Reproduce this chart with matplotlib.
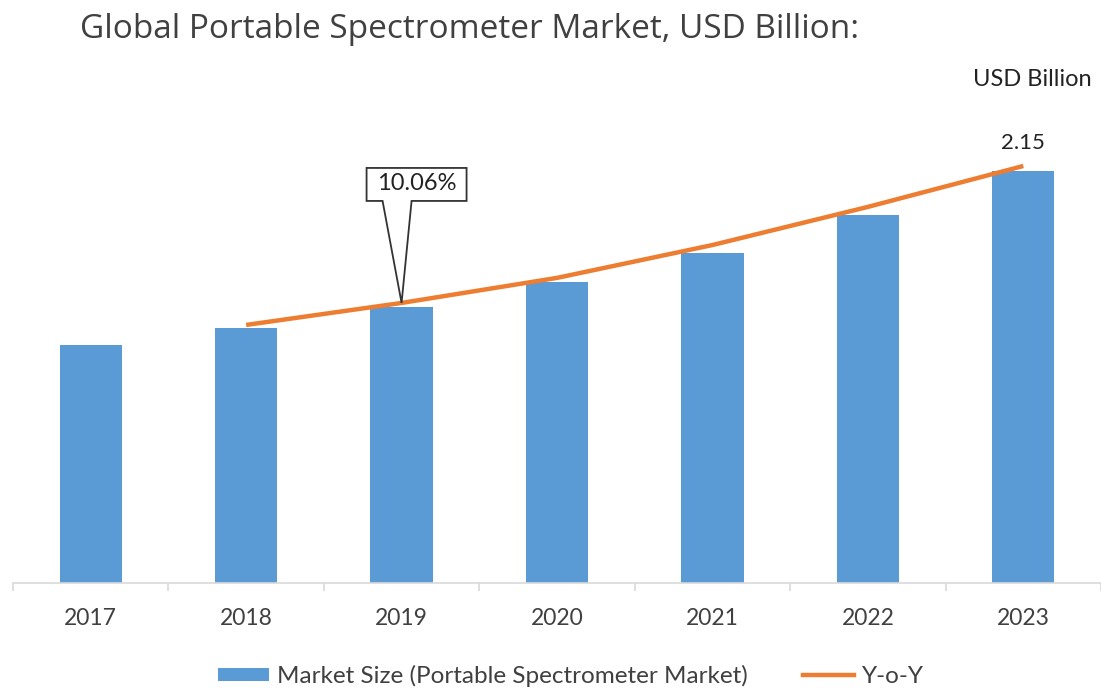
import numpy as np
import matplotlib.pyplot as plt
from matplotlib.patches import Polygon, Patch
from matplotlib.lines import Line2D

years = ['2017', '2018', '2019', '2020', '2021', '2022', '2023']
market_size = [1.24, 1.33, 1.44, 1.57, 1.72, 1.92, 2.15]   # USD billion
yoy_years = ['2018', '2019', '2020', '2021', '2022', '2023']
yoy = [9.27, 10.06, 10.96, 12.14, 13.51, 14.98]            # percent

BLUE = '#5B9BD5'
ORANGE = '#ED7D31'
TEXT = '#404040'

plt.rcParams['font.family'] = ['Lato', 'DejaVu Sans']

fig = plt.figure(figsize=(11.01, 6.88), dpi=100)
ax = fig.add_axes([13 / 1101, 105 / 688, 1 - 13 / 1101, 483 / 688])

x = np.arange(len(years))
ax.bar(x, market_size, width=0.40, color=BLUE, zorder=2)
ax.set_xlim(-0.5, len(years) - 0.5)
ax.set_ylim(0, 2.52)

for s in ['top', 'left', 'right']:
    ax.spines[s].set_visible(False)
ax.spines['bottom'].set_color('#D9D9D9')
ax.spines['bottom'].set_linewidth(1.2)
ax.set_yticks([])
ax.set_xticks(x)
ax.set_xticklabels(years, fontsize=16.5, color=TEXT)
ax.tick_params(axis='x', which='major', length=0, pad=18)
ax.set_xticks(np.arange(len(years) + 1) - 0.5, minor=True)
ax.tick_params(axis='x', which='minor', length=6, color='#D9D9D9', width=1.2)

# last value label
ax.annotate(f'{market_size[-1]:.2f}', xy=(x[-1], market_size[-1]), xytext=(0, 20),
            textcoords='offset points', ha='center', va='center',
            fontsize=16, color='#222222')

# Y-o-Y line on a hidden second scale
ax2 = ax.twinx()
ax2.set_ylim(0, 17.35)
ax2.axis('off')
xy = [years.index(y) for y in yoy_years]
ax2.plot(xy, yoy, color=ORANGE, lw=3.2, solid_capstyle='butt', zorder=3)

# callout for the 2019 value
i = yoy_years.index('2019')
fig.canvas.draw()
tx, ty = ax2.transData.transform((xy[i], yoy[i]))
shape = [(0, 0), (10, 102), (65, 102), (65, 135), (-35, 135), (-35, 102), (-19, 102)]
call = Polygon([(tx + dx, ty + dy) for dx, dy in shape], closed=True, transform=None,
               facecolor='white', edgecolor='#333333', lw=1.3, zorder=5)
fig.add_artist(call)
fig.text((tx + 15) / 1101, (ty + 119) / 688, f'{yoy[i]:.2f}%', ha='center', va='center',
         fontsize=17, color='#222222', zorder=6)

fig.text(80 / 1101, 1 - 30 / 688, 'Global Portable Spectrometer Market, USD Billion:',
         fontsize=24, color=TEXT, family='Open Sans', va='center', ha='left')
fig.text(1092 / 1101, 1 - 80 / 688, 'USD Billion', fontsize=17, color='#222222',
         ha='right', va='center')

handles = [Patch(facecolor=BLUE), Line2D([], [], color=ORANGE, lw=3.2)]
fig.legend(handles, ['Market Size (Portable Spectrometer Market)', 'Y-o-Y'],
           loc='center', bbox_to_anchor=(571 / 1101, 12 / 688), ncol=2, frameon=False,
           fontsize=17.5, handlelength=2.1, handleheight=0.45, handletextpad=0.3,
           columnspacing=2.3, labelcolor=TEXT)

fig.savefig('out.png', dpi=100)
